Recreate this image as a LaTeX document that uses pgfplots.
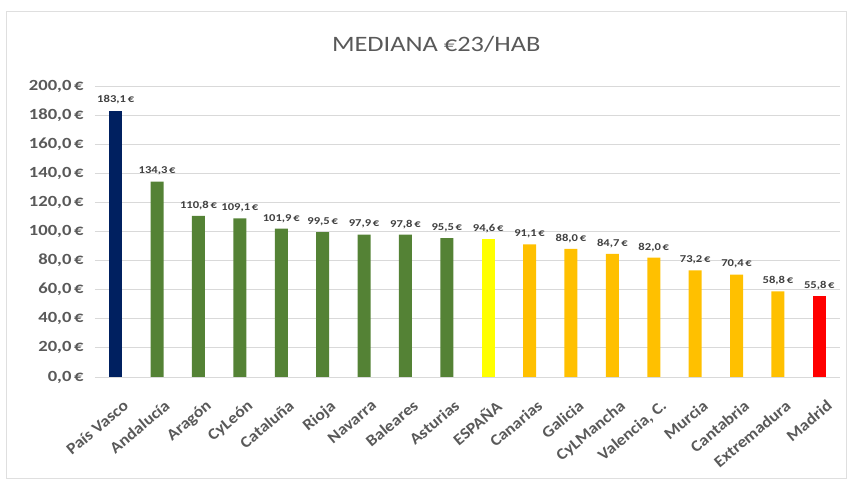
\documentclass[border=0pt]{standalone}
\usepackage{fontspec}
\setmainfont{Carlito}
\newfontfamily\hfont[FakeStretch=1.2]{Carlito}
\newfontfamily\rfont[FakeStretch=1.1]{Carlito}
\usepackage{pgfplots}
\pgfplotsset{compat=1.18}
\definecolor{txtgray}{HTML}{595959}
\definecolor{lblgray}{HTML}{404040}
\definecolor{navy}{HTML}{002060}
\definecolor{vgreen}{HTML}{548235}
\definecolor{vyellow}{HTML}{FFFF00}
\definecolor{vorange}{HTML}{FFC000}
\definecolor{vred}{HTML}{FF0000}
\begin{document}
\begin{tikzpicture}
\useasboundingbox (-95pt,-104pt) rectangle (753pt,377pt);
\draw[gray!25, line width=1pt] (-88pt,-102pt) rectangle (751pt,365pt);
\begin{axis}[
    scale only axis,
    width=745pt, height=291pt,
    xmin=-0.5, xmax=17.5,
    ymin=0, ymax=200,
    ytick={0,20,...,200},
    xtick={0,...,17},
    xticklabels={País Vasco, Andalucía, Aragón, CyLeón, Cataluña, Rioja, Navarra, Baleares, Asturias, ESPAÑA, Canarias, Galicia, CyLMancha, {Valencia, C.}, Murcia, Cantabria, Extremadura, Madrid},
    axis line style={draw=none},
    major tick length=0pt,
    ymajorgrids=true,
    grid style={gray!30, line width=0.9pt},
    /pgf/number format/assume math mode=true,
    yticklabel={\pgfmathprintnumber[fixed, fixed zerofill, precision=1, use comma]{\tick}\,€},
    yticklabel style={font=\hfont\bfseries\fontsize{15.5}{18}\selectfont, text=txtgray, anchor=east, xshift=-8pt},
    xticklabel style={font=\rfont\bfseries\fontsize{16}{19}\selectfont, text=txtgray, rotate=40, anchor=north east, inner sep=1pt, xshift=-8pt, yshift=-20pt},
    title={MEDIANA €23/HAB},
    title style={font=\hfont\fontsize{22}{26}\selectfont, text=txtgray, at={(0.458,1)}, anchor=center, yshift=36pt},
    ybar, bar width=13pt, bar shift=0pt,
    nodes near coords={\pgfmathprintnumber[fixed, fixed zerofill, precision=1, use comma]{\pgfplotspointmeta}\,€},
    every node near coord/.append style={font=\hfont\bfseries\fontsize{10.5}{12}\selectfont, text=lblgray, anchor=south, inner sep=1pt, yshift=5pt},
]
\addplot[fill=navy, draw=none] coordinates {(0,183.1)};
\addplot[fill=vgreen, draw=none] coordinates {(1,134.3) (2,110.8) (3,109.1) (4,101.9) (5,99.5) (6,97.9) (7,97.8) (8,95.5)};
\addplot[fill=vyellow, draw=none] coordinates {(9,94.6)};
\addplot[fill=vorange, draw=none] coordinates {(10,91.1) (11,88.0) (12,84.7) (13,82.0) (14,73.2) (15,70.4) (16,58.8)};
\addplot[fill=vred, draw=none] coordinates {(17,55.8)};
\end{axis}
\end{tikzpicture}
\end{document}
